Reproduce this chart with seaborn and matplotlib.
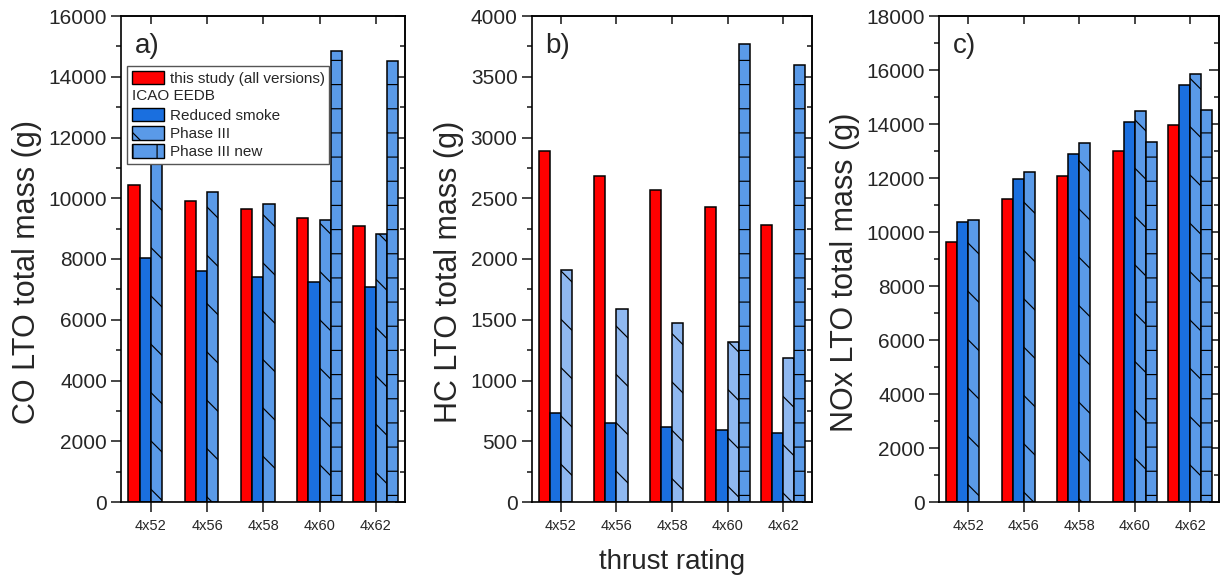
import numpy as np
import pandas as pd
import seaborn as sns
import matplotlib
matplotlib.use("Agg")
import matplotlib.pyplot as plt
from matplotlib.patches import Patch
from matplotlib.legend_handler import HandlerBase
from matplotlib.text import Text
from matplotlib.ticker import MultipleLocator, FixedLocator

# ---------------- data ----------------
ratings = ["4x52", "4x56", "4x58", "4x60", "4x62"]
series = ["this study (all versions)", "Reduced smoke", "Phase III", "Phase III new"]

co_this = [10450, 9920, 9650, 9360, 9080]
co_reduced = [8030, 7600, 7400, 7250, 7085]
co_phase3 = [11700, 10210, 9810, 9270, 8830]
co_phase3new = [np.nan, np.nan, np.nan, 14850, 14530]

hc_this = [2887, 2686, 2564, 2425, 2283]
hc_reduced = [731, 649, 620, 592, 569]
hc_phase3 = [1909, 1592, 1476, 1320, 1187]
hc_phase3new = [np.nan, np.nan, np.nan, 3771, 3595]

nox_this = [9617, 11232, 12085, 13013, 13980]
nox_reduced = [10367, 11958, 12899, 14082, 15443]
nox_phase3 = [10456, 12237, 13280, 14476, 15837]
nox_phase3new = [np.nan, np.nan, np.nan, 13319, 14514]

# ---------------- style ----------------
DPI = 145
S = 100.0 / DPI  # sizes below are given as if at 100 dpi

sns.set_style("ticks")
plt.rcParams["font.family"] = ["Liberation Sans", "DejaVu Sans"]
plt.rcParams["hatch.linewidth"] = 0.85 * S
plt.rcParams["axes.linewidth"] = 1.2 * S

RED = "#ff0000"
BLUE = "#1a6fdf"
MID = "#5a9ae8"
LIGHT = "#8fb8f0"
hatches = [None, None, "\\", "-"]

W, H = 1221.0, 579.0
fig = plt.figure(figsize=(W / DPI, H / DPI), dpi=DPI)
bottom_px, top_px = 502.0, 16.0
panels_px = [(121, 405), (531.5, 812), (939, 1219)]
axes = [fig.add_axes([l / W, 1 - bottom_px / H, (r - l) / W, (bottom_px - top_px) / H])
        for l, r in panels_px]


class TextRowHandler(HandlerBase):
    def create_artists(self, legend, orig_handle, xdescent, ydescent,
                       width, height, fontsize, trans):
        t = Text(-xdescent, -ydescent + height / 2.0, "ICAO EEDB",
                 fontsize=fontsize, va="center", ha="left", transform=trans,
                 family=["Liberation Sans", "DejaVu Sans"])
        return [t]


class TextRow:
    pass


def draw(ax, vals, colors, ymax, major, minor, ylabel, letter):
    df = pd.DataFrame({
        "rating": np.tile(ratings, len(series)),
        "series": np.repeat(series, len(ratings)),
        "value": np.concatenate([np.asarray(v, dtype=float) for v in vals]),
    })
    sns.barplot(data=df, x="rating", y="value", hue="series", order=ratings,
                hue_order=series, palette=colors, width=0.8, saturation=1,
                edgecolor="black", linewidth=1.1 * S, errorbar=None, legend=False,
                ax=ax)
    for cont, h in zip(ax.containers, hatches):
        for bar in cont:
            if h:
                bar.set_hatch(h)
    ax.set_xlim(-0.53, 4.52)
    ax.set_ylim(0, ymax)
    ax.yaxis.set_major_locator(MultipleLocator(major))
    ax.yaxis.set_minor_locator(MultipleLocator(minor))
    ax.tick_params(axis="y", which="major", direction="out", length=7 * S, width=1.2 * S,
                   labelsize=15 * S, right=False, pad=3 * S)
    ax.tick_params(axis="y", which="minor", direction="out", length=3.5 * S, width=1.2 * S,
                   right=False)
    ax.tick_params(axis="x", which="major", direction="out", length=7 * S, width=1.2 * S,
                   labelsize=10.5 * S, top=False, pad=5 * S)
    ax.set_xlabel("")
    ax.set_ylabel(ylabel, fontsize=22 * S, labelpad=5 * S)
    ax.yaxis.label.set_y(0.473)
    # right (inward) ticks
    sec_y = ax.secondary_yaxis("right")
    sec_y.yaxis.set_major_locator(MultipleLocator(major))
    sec_y.yaxis.set_minor_locator(MultipleLocator(minor))
    sec_y.tick_params(axis="y", which="major", direction="in", length=7 * S, width=1.2 * S,
                      labelright=False)
    sec_y.tick_params(axis="y", which="minor", direction="in", length=3.5 * S, width=1.2 * S)
    sec_y.spines["right"].set_linewidth(1.2 * S)
    # top (inward) ticks
    sec_x = ax.secondary_xaxis("top")
    sec_x.xaxis.set_major_locator(FixedLocator(range(len(ratings))))
    sec_x.tick_params(axis="x", which="major", direction="in", length=6 * S, width=1.2 * S,
                      labeltop=False)
    sec_x.spines["top"].set_linewidth(1.2 * S)
    for s in ax.spines.values():
        s.set_color("black")
        s.set_linewidth(1.2 * S)
    ax.text(0.05, 0.965, letter, transform=ax.transAxes, fontsize=20 * S,
            va="top", ha="left")


draw(axes[0], [co_this, co_reduced, co_phase3, co_phase3new],
     [RED, BLUE, MID, MID], 16000, 2000, 1000, "CO LTO total mass (g)", "a)")
draw(axes[1], [hc_this, hc_reduced, hc_phase3, hc_phase3new],
     [RED, BLUE, LIGHT, MID], 4000, 500, 250, "HC LTO total mass (g)", "b)")
draw(axes[2], [nox_this, nox_reduced, nox_phase3, nox_phase3new],
     [RED, BLUE, MID, MID], 18000, 2000, 1000, "NOx LTO total mass (g)", "c)")

handles = [
    Patch(facecolor=RED, edgecolor="black", linewidth=1.0 * S),
    TextRow(),
    Patch(facecolor=BLUE, edgecolor="black", linewidth=1.0 * S),
    Patch(facecolor=MID, edgecolor="black", linewidth=1.0 * S, hatch="\\"),
    Patch(facecolor=MID, edgecolor="black", linewidth=1.0 * S, hatch="|"),
]
labels = ["this study (all versions)", "", "Reduced smoke", "Phase III", "Phase III new"]
leg = axes[0].legend(handles, labels, handler_map={TextRow: TextRowHandler()},
                     loc="upper left", bbox_to_anchor=(0.021, 0.897),
                     borderaxespad=0, fontsize=11 * S, fancybox=False,
                     edgecolor="#555555", framealpha=1, borderpad=0.3,
                     handlelength=2.15, handleheight=1.0, handletextpad=0.35,
                     labelspacing=0.22)
leg.get_frame().set_linewidth(1.0 * S)
leg.set_zorder(10)

fig.text(672 / W, 1 - 562 / H, "thrust rating", fontsize=20 * S, ha="center", va="center")

fig.savefig("out.png", dpi=DPI)
